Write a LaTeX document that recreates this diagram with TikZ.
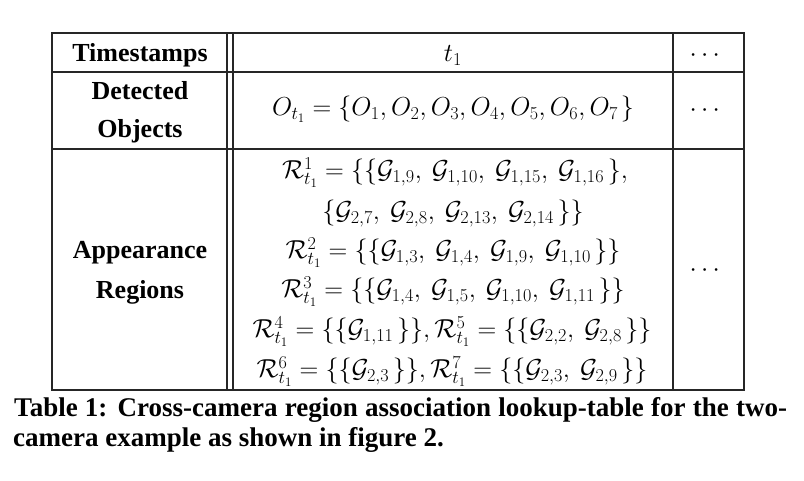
\RequirePackage{fix-cm}
\documentclass[tikz,border=0pt]{standalone}
\usepackage{amsmath}
\usepackage{fontspec}
\setmainfont{Liberation Serif}
\newcommand{\Gs}[1]{\mathcal{G}_{#1}}
\newcommand{\Rs}[1]{\mathcal{R}^{#1}_{t_1}}
\newcommand{\cc}{,\mkern4mu}
\newcommand{\cb}{\mkern2.5mu\}}
\begin{document}
\begin{tikzpicture}[x=1pt,y=-1pt,
  rule/.style={line width=1.3pt, black!85},
  lbl/.style={font=\fontsize{26}{30}\selectfont\bfseries, anchor=base, inner sep=0pt},
  mth/.style={font=\fontsize{26}{30}\selectfont, anchor=base, inner sep=0pt},
  captxt/.style={font=\fontsize{27}{30}\selectfont\bfseries, anchor=base west, inner sep=0pt}]
\useasboundingbox (0,0) rectangle (804,481);
% table rules
\draw[rule] (52,33) rectangle (744,390);
\draw[rule] (52,72) -- (744,72);
\draw[rule] (52,149) -- (744,149);
\draw[rule] (227,33) -- (227,390);
\draw[rule] (233,33) -- (233,390);
\draw[rule] (673,33) -- (673,390);
% row 1
\node[lbl] (ts) at (140,62) {Timestamps};
\node[mth] (t1) at (453,62) {$t_1$};
\node[mth] (dots1) at (707,61.5) {$\cdots$};
% row 2
\node[lbl] (det) at (140,100) {Detected};
\node[lbl] (obj) at (140,138) {Objects};
\node[mth] (ot) at (453,116) {$O_{t_1} = \{O_1, O_2, O_3, O_4, O_5, O_6, O_7\mkern2mu\}$};
\node[mth] (dots2) at (707,116.5) {$\cdots$};
% row 3
\node[lbl] (app) at (140,259) {Appearance};
\node[lbl] (reg) at (140,299) {Regions};
\node[mth] (r1) at (455,178.5) {$\Rs{1} = \{\{\Gs{1,9}\cc \Gs{1,10}\cc \Gs{1,15}\cc \Gs{1,16}\cb,$};
\node[mth] (r1b) at (453,219.5) {$\{\Gs{2,7}\cc \Gs{2,8}\cc \Gs{2,13}\cc \Gs{2,14}\cb\}$};
\node[mth] (r2) at (453,258.5) {$\Rs{2} = \{\{\Gs{1,3}\cc \Gs{1,4}\cc \Gs{1,9}\cc \Gs{1,10}\cb\}$};
\node[mth] (r3) at (453,297.5) {$\Rs{3} = \{\{\Gs{1,4}\cc \Gs{1,5}\cc \Gs{1,10}\cc \Gs{1,11}\cb\}$};
\node[mth] (r45) at (452,337.5) {$\Rs{4} = \{\{\Gs{1,11}\cb\}, \Rs{5} = \{\{\Gs{2,2}\cc \Gs{2,8}\cb\}$};
\node[mth] (r67) at (452,377.5) {$\Rs{6} = \{\{\Gs{2,3}\cb\}, \Rs{7} = \{\{\Gs{2,3}\cc \Gs{2,9}\cb\}$};
\node[mth] (dots3) at (707,276.5) {$\cdots$};
% caption
\node[captxt] (c1) at (14,416.5) {\makebox[773pt][s]{Table 1: Cross-camera region association lookup-table for the two-}};
\node[captxt] (c2) at (13,446.5) {camera example as shown in figure 2.};
\end{tikzpicture}
\end{document}
